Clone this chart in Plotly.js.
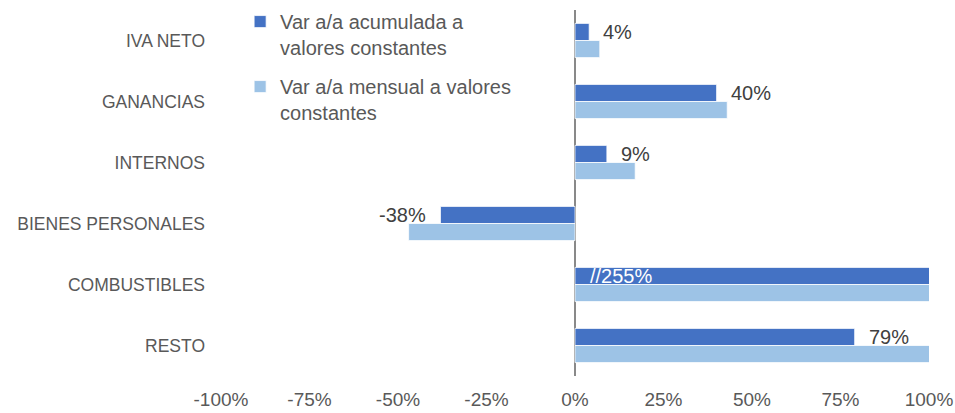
<!DOCTYPE html>
<html>
<head>
<meta charset="utf-8">
<script src="https://cdn.plot.ly/plotly-3.0.1.min.js"></script>
<style>html,body{margin:0;padding:0;background:#fff;}#chart{width:955px;height:413px;}</style>
</head>
<body>
<div id="chart"></div>
<script>
const categories = ['IVA NETO', 'GANANCIAS', 'INTERNOS', 'BIENES PERSONALES', 'COMBUSTIBLES', 'RESTO'];
const acumulada = [4, 40, 9, -38, 255, 79];
const mensual = [7, 43, 17, -47, 200, 110];
const acumLabels = ['4%', '40%', '9%', '-38%', '//255%', '79%'];
const seriesNames = ['Var a/a acumulada a<br>valores constantes', 'Var a/a mensual a valores<br>constantes'];
const tickVals = [-100, -75, -50, -25, 0, 25, 50, 75, 100];
const tickText = ['-100%', '-75%', '-50%', '-25%', '0%', '25%', '50%', '75%', '100%'];

const FONT = 'Liberation Sans, Arial, sans-serif';

const traces = [
  {
    type: 'bar', orientation: 'h', name: seriesNames[0], legendgroup: 'a',
    y: categories, x: acumulada,
    marker: {color: '#4472C4', line: {color: '#ffffff', width: 0.75}},
    hoverinfo: 'skip'
  },
  {
    type: 'bar', orientation: 'h', name: seriesNames[1], legendgroup: 'b',
    y: categories, x: mensual,
    marker: {color: '#9DC3E6', line: {color: '#ffffff', width: 0.75}},
    hoverinfo: 'skip'
  }
];

const annotations = categories.map((c, i) => {
  const v = acumulada[i];
  const clipped = v > 100;
  return {
    x: clipped ? 0 : v, y: c, xref: 'x', yref: 'y',
    text: acumLabels[i], showarrow: false,
    xanchor: (v >= 0) ? 'left' : 'right',
    xshift: clipped ? 13 : (v >= 0 ? 12 : -12),
    yshift: 9,
    font: {family: FONT, size: 20, color: clipped ? '#ffffff' : '#404040'}
  };
});

const layout = {
  width: 955, height: 413,
  margin: {l: 221, r: 26, t: 10, b: 37, autoexpand: false},
  paper_bgcolor: '#ffffff', plot_bgcolor: '#ffffff',
  barmode: 'group', bargap: 0.44, bargroupgap: 0,
  font: {family: FONT, size: 18, color: '#595959'},
  xaxis: {
    range: [-100, 100], tickvals: tickVals, ticktext: tickText,
    showgrid: false, zeroline: true, zerolinecolor: '#898989', zerolinewidth: 1.5,
    showline: false, ticks: '', ticklabelstandoff: 10, automargin: false,
    tickfont: {family: FONT, size: 19, color: '#595959'}
  },
  yaxis: {
    type: 'category', categoryorder: 'array', categoryarray: categories,
    autorange: 'reversed', showgrid: false, zeroline: false, showline: false,
    ticks: '', ticklabelstandoff: 15, automargin: false,
    tickfont: {family: FONT, size: 17.5, color: '#595959'}
  },
  showlegend: true,
  legend: {
    x: 0.027, y: 0.995, xanchor: 'left', yanchor: 'top', yref: 'container',
    bgcolor: 'rgba(0,0,0,0)', valign: 'top', tracegroupgap: 10,
    font: {family: FONT, size: 20, color: '#595959'}
  },
  annotations: annotations
};

Plotly.newPlot('chart', traces, layout, {displayModeBar: false, staticPlot: true});
</script>
</body>
</html>
